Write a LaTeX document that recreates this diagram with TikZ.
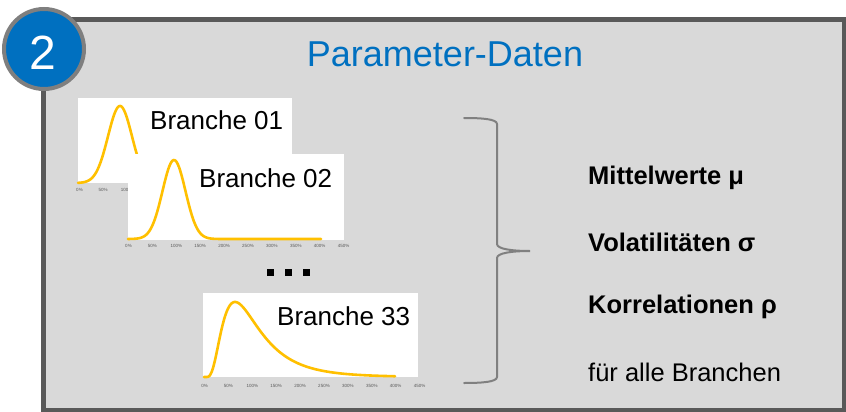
\documentclass[tikz,border=0pt]{standalone}
\usepackage{fontspec}
\setmainfont{Liberation Sans}
\definecolor{panelfill}{HTML}{D9D9D9}
\definecolor{panelborder}{HTML}{595959}
\definecolor{badgeblue}{HTML}{0070C0}
\definecolor{badgering}{HTML}{7F7F7F}
\definecolor{curveyellow}{HTML}{FFC000}
\definecolor{tickgray}{HTML}{595959}
\definecolor{bracegray}{HTML}{808080}
\begin{document}
\begin{tikzpicture}[x=1pt,y=-1pt,
  chartbg/.style={fill=white,draw=none},
  curve/.style={draw=curveyellow,line width=2.6pt,line join=round,line cap=round},
  ticklbl/.style={font=\fontsize{4.5}{5}\selectfont,text=tickgray,inner sep=0pt},
  brlabel/.style={font=\fontsize{26}{30}\selectfont,anchor=west,inner sep=0pt},
  paramlbl/.style={font=\bfseries\fontsize{25.5}{30}\selectfont,anchor=west,inner sep=0pt},
  normallbl/.style={font=\fontsize{25.5}{30}\selectfont,anchor=west,inner sep=0pt},
  dotsq/.style={fill=black,draw=none,minimum size=7pt,inner sep=0pt}]
\useasboundingbox (0,0) rectangle (846,412);
% panel
\begin{scope}
\clip (0,0) rectangle (846,412);
\draw[fill=panelfill,draw=panelborder,line width=5.5pt] (43.6,19.6) rectangle (844.6,411.2);
\end{scope}
% badge
\node[circle,fill=badgeblue,draw=badgering,line width=4pt,minimum size=80pt,inner sep=0pt] (badge) at (44,49) {};
\node[text=white,font=\fontsize{48}{50}\selectfont,inner sep=0pt] (badgenum) at (43,53) {2};
% title
\node[text=badgeblue,font=\fontsize{36}{40}\selectfont,inner sep=0pt] (title) at (445,54) {Parameter-Daten};

% chart 1
\fill[chartbg] (78,97.5) rectangle (292,183);
\draw[curve] plot[domain=78:150,samples=100] (\x,{183-77*exp(-((\x-120)/12)^2/2)});
\foreach \i [count=\k from 0] in {0,50,100}
  \node[ticklbl] (ta\k) at ({79.5+23.6*\k},190) {\i\%};
\node[brlabel] (b01) at (150,120) {Branche 01};

% chart 2
\fill[chartbg] (128,154) rectangle (344,240);
\draw[curve] plot[domain=128:321,samples=160] (\x,{239-79*exp(-((\x-174)/11.5)^2/2)});
\foreach \i [count=\k from 0] in {0,50,100,150,200,250,300,350,400,450}
  \node[ticklbl] (tb\k) at ({128.5+23.9*\k},246) {\i\%};
\node[brlabel] (b02) at (199,178) {Branche 02};

% dots
\node[dotsq] (d1) at (270.5,272.5) {};
\node[dotsq] (d2) at (288.5,272.5) {};
\node[dotsq] (d3) at (306.5,272.5) {};

% chart 3
\fill[chartbg] (203,293) rectangle (418,377);
\draw[curve] (204,377) -- plot[domain=0.02:4,samples=200] ({204+47.8*\x},{377-75*exp(-((ln(\x)+0.071)^2)/0.72)/\x/1.285});
\foreach \i [count=\k from 0] in {0,50,100,150,200,250,300,350,400,450}
  \node[ticklbl] (tc\k) at ({204.5+23.9*\k},386) {\i\%};
\node[brlabel] (b33) at (277,316) {Branche 33};

% brace
\draw[bracegray,line width=2pt,line cap=round]
  (464,118) .. controls (482,118) and (497,119) .. (497,124) -- (497,244)
  .. controls (497,249) and (512,251) .. (530,251)
  .. controls (512,251) and (497,253) .. (497,258) -- (497,377)
  .. controls (497,382) and (482,383) .. (464,383);

% parameters
\node[paramlbl] (mu) at (588,178) {Mittelwerte μ};
\node[paramlbl] (sigma) at (588,242) {Volatilitäten σ};
\node[paramlbl] (rho) at (588,307) {Korrelationen ρ};
\node[normallbl] (alle) at (588,372) {für alle Branchen};
\end{tikzpicture}
\end{document}
